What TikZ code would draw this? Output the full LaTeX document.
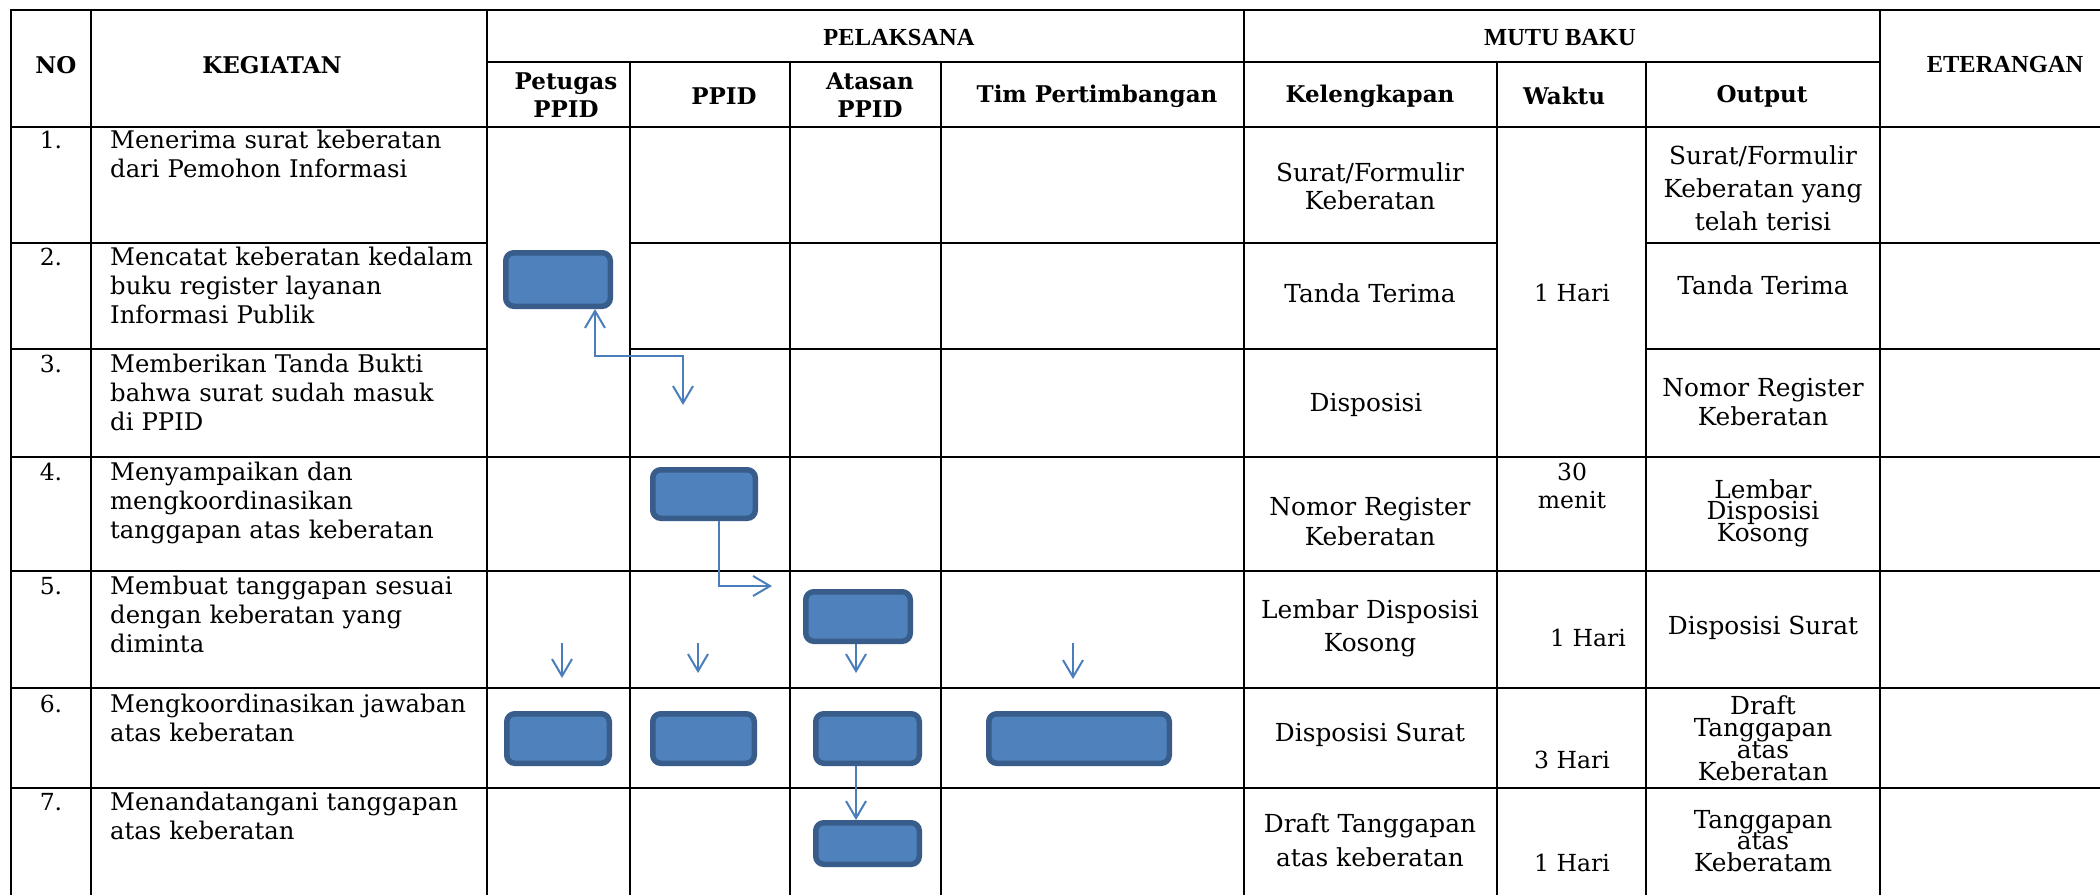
\documentclass[tikz,border=0pt]{standalone}
\usepackage{fontspec}
\setmainfont{DejaVu Serif}
\newfontfamily\tms{Liberation Serif}
\usetikzlibrary{arrows.meta}
\definecolor{boxfill}{HTML}{4F81BD}
\definecolor{boxline}{HTML}{385D8A}
\definecolor{flowc}{HTML}{4A7EBB}
\tikzset{
  gridline/.style={line width=2.2pt, black, line cap=rect},
  task/.style={draw=boxline, fill=boxfill, line width=5.5pt, rounded corners=8pt, inner sep=0pt},
  flow/.style={draw=flowc, line width=2pt},
  body/.style={inner sep=0pt, font=\fontsize{24.3}{29}\selectfont},
  kg/.style={body, anchor=base west, text width=390pt, align=left},
  num/.style={inner sep=0pt, anchor=base, font=\fontsize{23.5}{29}\selectfont},
  cell/.style={inner sep=0pt, align=center, font={\fontsize{24.8}{#1}\selectfont\lineskiplimit=-30pt}},
  cell/.default=29,
  wcell/.style={inner sep=0pt, align=center, font={\fontsize{23.5}{#1}\selectfont\lineskiplimit=-30pt}},
  wcell/.default=29,
  hdr/.style={inner sep=0pt, align=center, font={\fontsize{23}{28}\selectfont\bfseries\lineskiplimit=-30pt}},
  thdr/.style={inner sep=0pt, font=\tms\fontsize{24.5}{29}\selectfont\bfseries},
}
\begin{document}
\begin{tikzpicture}[x=1pt,y=-1pt,>={Straight Barb[length=17pt,width=20pt]}]
\useasboundingbox (0,0) rectangle (2100,894);
\clip (0,0) rectangle (2100,894);
\fill[white] (0,0) rectangle (2100,894);

% ---------- table grid ----------
\draw[gridline] (11,10) -- (2110,10);
\draw[gridline] (487,62) -- (1880,62);
\draw[gridline] (11,127) -- (2110,127);
\foreach \yy in {243,349}{
  \draw[gridline] (11,\yy) -- (487,\yy);
  \draw[gridline] (630,\yy) -- (1497,\yy);
  \draw[gridline] (1646,\yy) -- (2110,\yy);
}
\foreach \yy in {457,571,688,788}{
  \draw[gridline] (11,\yy) -- (2110,\yy);
}
\foreach \xx in {11,91,487,1244,1880}{
  \draw[gridline] (\xx,10) -- (\xx,900);
}
\foreach \xx in {630,790,941,1497,1646}{
  \draw[gridline] (\xx,62) -- (\xx,900);
}

% ---------- headers ----------
\node[hdr] (hno) at (56,65) {NO};
\node[hdr] (hkg) at (272,65) {KEGIATAN};
\node[thdr] (hpl) at (899,37.5) {PELAKSANA};
\node[thdr] (hmb) at (1560,37.5) {MUTU BAKU};
\node[thdr] (het) at (2005,65) {ETERANGAN};
\node[hdr] (hpt) at (566,95) {Petugas\\PPID};
\node[hdr] (hpp) at (724,96) {PPID};
\node[hdr] (hat) at (870,95) {Atasan\\PPID};
\node[hdr] (htp) at (1097,96) {Tim Pertimbangan};
\node[hdr] (hkl) at (1370,96) {Kelengkapan};
\node[hdr] (hwk) at (1564,96) {Waktu};
\node[hdr] (hop) at (1762,96) {Output};

% ---------- NO + KEGIATAN ----------
\node[num] (n1) at (51,148) {1.};
\node[num] (n2) at (51,265) {2.};
\node[num] (n3) at (51,372) {3.};
\node[num] (n4) at (51,480) {4.};
\node[num] (n5) at (51,594) {5.};
\node[num] (n6) at (51,712) {6.};
\node[num] (n7) at (51,810) {7.};
\node[kg] (k1) at (110,148) {Menerima surat keberatan\\dari Pemohon Informasi};
\node[kg] (k2) at (110,265) {Mencatat keberatan kedalam\\buku register layanan\\Informasi Publik};
\node[kg] (k3) at (110,372) {Memberikan Tanda Bukti\\bahwa surat sudah masuk\\di PPID};
\node[kg] (k4) at (110,480) {Menyampaikan dan\\mengkoordinasikan\\tanggapan atas keberatan};
\node[kg] (k5) at (110,594) {Membuat tanggapan sesuai\\dengan keberatan yang\\diminta};
\node[kg] (k6) at (110,712) {Mengkoordinasikan jawaban\\atas keberatan};
\node[kg] (k7) at (110,810) {Menandatangani tanggapan\\atas keberatan};

% ---------- Kelengkapan ----------
\node[cell=28] (kl1) at (1370,186) {Surat/Formulir\\Keberatan};
\node[cell] (kl2) at (1370,293) {Tanda Terima};
\node[cell] (kl3) at (1366,405) {Disposisi};
\node[cell=30] (kl4) at (1370,522) {Nomor Register\\Keberatan};
\node[cell=33] (kl5) at (1370,628) {Lembar Disposisi\\Kosong};
\node[cell] (kl6) at (1370,735) {Disposisi Surat};
\node[cell=34] (kl7) at (1370,840) {Draft Tanggapan\\atas keberatan};

% ---------- Waktu ----------
\node[wcell] (w1) at (1572,293) {1 Hari};
\node[wcell=28] (w4) at (1572,486) {30\\menit};
\node[wcell] (w5) at (1588,638) {1 Hari};
\node[wcell] (w6) at (1572,760) {3 Hari};
\node[wcell] (w7) at (1572,863) {1 Hari};

% ---------- Output ----------
\node[cell=33] (o1) at (1763,188) {Surat/Formulir\\Keberatan yang\\telah terisi};
\node[cell] (o2) at (1763,285) {Tanda Terima};
\node[cell=29] (o3) at (1763,402) {Nomor Register\\Keberatan};
\node[cell=21.5] (o4) at (1763,513) {Lembar\\Disposisi\\Kosong};
\node[cell] (o5) at (1763,628) {Disposisi Surat};
\node[cell=22] (o6) at (1763,738) {Draft\\Tanggapan\\atas\\Keberatan};
\node[cell=21.5] (o7) at (1763,841) {Tanggapan\\atas\\Keberatam};

% ---------- process boxes ----------
\node[task, minimum width=104.5pt, minimum height=53.5pt] (p2) at (558,279.5) {};
\node[task, minimum width=102.5pt, minimum height=48.5pt] (pp4) at (704,494) {};
\node[task, minimum width=104.5pt, minimum height=49.5pt] (a5) at (858,616.5) {};
\node[task, minimum width=102.5pt, minimum height=49.5pt] (p6) at (558,738.5) {};
\node[task, minimum width=101.5pt, minimum height=49.5pt] (pp6) at (703.5,738.5) {};
\node[task, minimum width=103.5pt, minimum height=49.5pt] (a6) at (867.5,738.5) {};
\node[task, minimum width=180.5pt, minimum height=49.5pt] (t6) at (1079,738.5) {};
\node[task, minimum width=103.5pt, minimum height=41.5pt] (a7) at (867.5,843.5) {};

% ---------- connectors ----------
\coordinate (k1b) at (595,356);
\coordinate (t3) at (683,405);
\draw[flow,<->] (p2.south -| k1b) -- (k1b) -| (t3);

\coordinate (k2b) at (719,586);
\coordinate (t5) at (772,586);
\draw[flow,->] (pp4.south -| k2b) -- (k2b) -- (t5);

\coordinate (a5e) at (856,673);
\draw[flow,->] (a5.south -| a5e) -- (a5e);

\coordinate (fp1) at (562,643);
\coordinate (fp2) at (562,678);
\draw[flow,->] (fp1) -- (fp2);
\coordinate (fq1) at (698,643);
\coordinate (fq2) at (698,673);
\draw[flow,->] (fq1) -- (fq2);
\coordinate (ft1) at (1073,643);
\coordinate (ft2) at (1073,679);
\draw[flow,->] (ft1) -- (ft2);

\coordinate (a6x) at (856,0);
\draw[flow,->] (a6.south -| a6x) -- (a7.north -| a6x);
\end{tikzpicture}
\end{document}
